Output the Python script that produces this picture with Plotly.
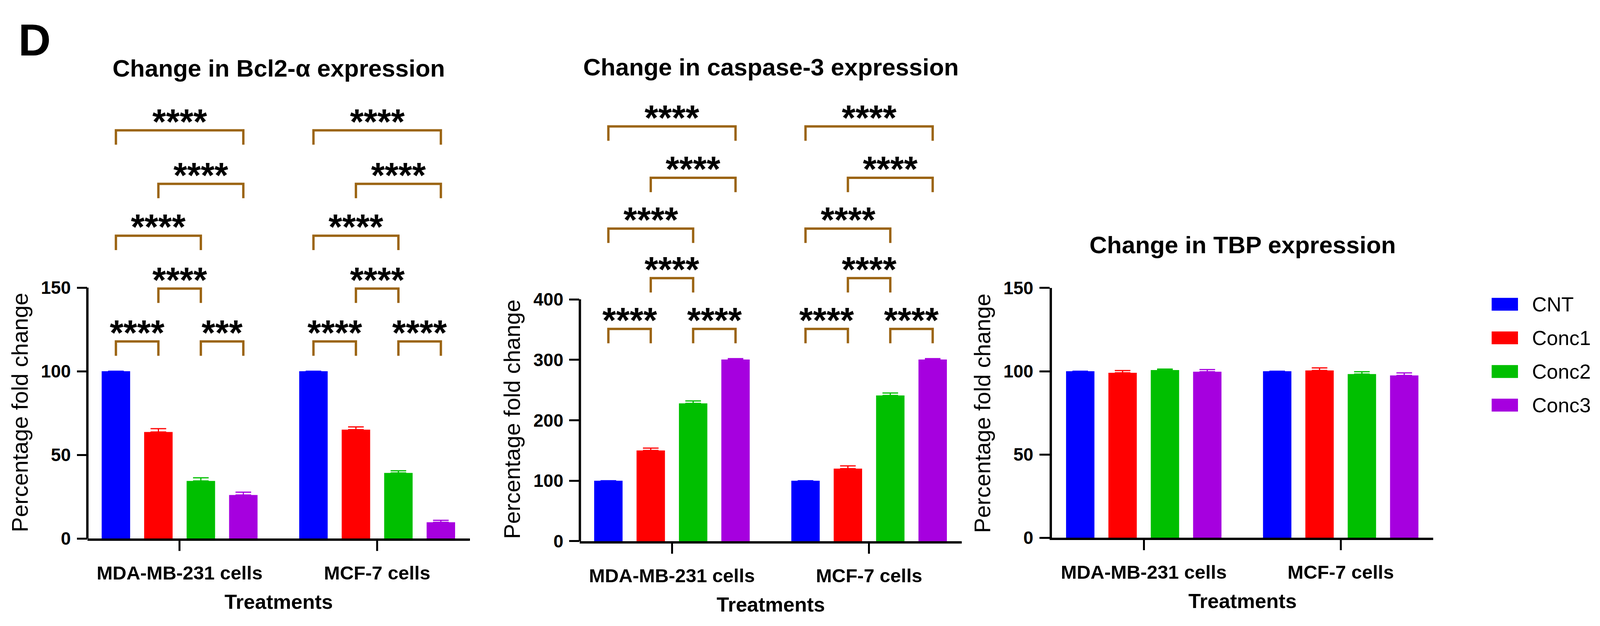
import plotly.graph_objects as go

# ---------------- data ----------------
groups = ["MDA-MB-231 cells", "MCF-7 cells"]
series = ["CNT", "Conc1", "Conc2", "Conc3"]
colors = ["#0000FF", "#FF0000", "#00BF00", "#A600DF"]

# values per series: [MDA-MB-231, MCF-7]
bcl2_values = [[100, 100], [63.7, 65.1], [34.4, 39.2], [26.0, 9.7]]
bcl2_err = [[0, 0], [2.0, 1.6], [1.9, 1.3], [1.7, 1.2]]

casp_values = [[100, 100], [150, 120], [228, 241], [300.5, 300.5]]
casp_err = [[0, 0], [4.0, 4.5], [4.0, 4.0], [1.5, 1.5]]

tbp_values = [[100, 100], [99.1, 100.5], [100.7, 98.3], [99.7, 97.5]]
tbp_err = [[0, 0], [1.3, 1.5], [0.6, 1.4], [1.3, 1.5]]

titles = ["Change in Bcl2-\u03b1 expression", "Change in caspase-3 expression", "Change in TBP expression"]
y_title = "Percentage fold change"
x_title = "Treatments"
panel_letter = "D"

# significance brackets: pairs of bar indices within a group
bracket_pairs = [(0, 1), (2, 3), (1, 2), (0, 2), (1, 3), (0, 3)]
bcl2_bracket_y = [117.8, 117.8, 149.4, 181, 212, 244]
bcl2_labels = [["****", "***", "****", "****", "****", "****"],
               ["****", "****", "****", "****", "****", "****"]]
casp_bracket_y = [351, 351, 435, 517, 601, 686]
casp_labels = [["****"] * 6, ["****"] * 6]

y_ticks = [[0, 50, 100, 150], [0, 100, 200, 300, 400], [0, 50, 100, 150]]

# ---------------- layout constants ----------------
# positions below are measured in reference pixels (4194 x 1602); the visible
# page is about 4096 px wide, so horizontal positions are scaled by SX.
REF_W = 4194
VIEW_W = 4096
SX = VIEW_W / REF_W
MARGIN = 8                       # default body margin of the html page
W, H = 4070, 1576
FONT = "Liberation Sans"
BRACKET_COLOR = "#9B6412"
BARGAP = 0.14
BARGROUPGAP = 0.33
XRANGE = [-0.467, 1.47]

panels = [
    dict(x0=229, x1=1232, zero=1398, ppu=4.427, ymax=265, top=150,
         vals=bcl2_values, errs=bcl2_err, br_y=bcl2_bracket_y, br_lab=bcl2_labels,
         title_y=153, ytitle_x=51, ytitle_y=1064),
    dict(x0=1520, x1=2521, zero=1405, ppu=1.6000, ymax=720, top=400,
         vals=casp_values, errs=casp_err, br_y=casp_bracket_y, br_lab=casp_labels,
         title_y=150, ytitle_x=1342, ytitle_y=1082),
    dict(x0=2757, x1=3757, zero=1396, ppu=4.407, ymax=150, top=150,
         vals=tbp_values, errs=tbp_err, br_y=None, br_lab=None,
         title_y=621, ytitle_x=2574, ytitle_y=1066),
]


def fx(px):
    return (px * SX - MARGIN) / W


def fy(py):
    return 1 - (py - MARGIN) / H


fig = go.Figure()
shapes = []
annotations = []
layout = {}

pitch = (1 - BARGAP) / len(series)

for p, pn in enumerate(panels):
    sfx = "" if p == 0 else str(p + 1)
    xa, ya = "x" + sfx, "y" + sfx
    for k, s in enumerate(series):
        fig.add_trace(go.Bar(
            x=groups, y=pn["vals"][k], name=s, marker_color=colors[k],
            marker_line_width=0, showlegend=False,
            error_y=dict(type="data", array=pn["errs"][k], arrayminus=[0, 0],
                         symmetric=False, color=colors[k], thickness=3, width=20),
            xaxis=xa, yaxis=ya))
    top_px = pn["zero"] - pn["ymax"] * pn["ppu"]
    layout["xaxis" + sfx] = dict(
        domain=[fx(pn["x0"]), fx(pn["x1"])], range=XRANGE, anchor=ya,
        showline=True, linewidth=6, linecolor="black", mirror=False,
        ticks="outside", ticklen=26, tickwidth=5, tickcolor="black",
        ticklabelstandoff=14,
        tickfont=dict(family=FONT, size=49, color="black", weight="bold"),
        title=dict(text=x_title, standoff=32,
                   font=dict(family=FONT, size=52, color="black", weight="bold")),
        showgrid=False, zeroline=False, fixedrange=True)
    layout["yaxis" + sfx] = dict(
        domain=[fy(pn["zero"]), fy(top_px)], range=[0, pn["ymax"]], anchor=xa,
        showline=(p == 2), linewidth=6, linecolor="black",
        ticks="outside", ticklen=26, tickwidth=5, tickcolor="black",
        ticklabelstandoff=6,
        tickvals=y_ticks[p], ticktext=[str(v) for v in y_ticks[p]],
        tickfont=dict(family=FONT, size=46, color="black", weight="bold"),
        showgrid=False, zeroline=False, fixedrange=True)
    if p != 2:
        # y-axis line only up to the top tick
        shapes.append(dict(type="line", xref=xa + " domain", yref=ya,
                           x0=0, x1=0, y0=0, y1=pn["top"],
                           line=dict(color="black", width=6)))
    # panel title
    annotations.append(dict(text=titles[p], xref="paper", yref="paper",
                            x=fx((pn["x0"] + pn["x1"]) / 2), y=fy(pn["title_y"]),
                            xanchor="center", yanchor="middle", showarrow=False,
                            font=dict(family=FONT, size=62, color="black", weight="bold")))
    # y title
    annotations.append(dict(text=y_title, xref="paper", yref="paper",
                            x=fx(pn["ytitle_x"]), y=fy(pn["ytitle_y"]), textangle=-90,
                            xanchor="center", yanchor="middle", showarrow=False,
                            font=dict(family=FONT, size=58, color="black")))
    # brackets
    if pn["br_y"] is not None:
        leg = 38 / pn["ppu"]
        for g in range(len(groups)):
            for b, (i, j) in enumerate(bracket_pairs):
                xi = g + (i - 1.5) * pitch
                xj = g + (j - 1.5) * pitch
                yl = pn["br_y"][b]
                shapes.append(dict(type="path", xref=xa, yref=ya,
                                   path=f"M {xi},{yl - leg} L {xi},{yl} L {xj},{yl} L {xj},{yl - leg}",
                                   line=dict(color=BRACKET_COLOR, width=6)))
                annotations.append(dict(text=pn["br_lab"][g][b], xref=xa, yref=ya,
                                        x=(xi + xj) / 2, y=yl, xanchor="center",
                                        yanchor="bottom", yshift=-30, showarrow=False,
                                        font=dict(family=FONT, size=90, color="black",
                                                  weight="bold")))

# panel letter
annotations.append(dict(text=panel_letter, xref="paper", yref="paper",
                        x=fx(46), y=fy(10), xanchor="left", yanchor="top", showarrow=False,
                        font=dict(family=FONT, size=115, color="black", weight="bold")))

# legend (drawn manually to get large swatches)
leg_x0, leg_x1 = 3910, 3979
leg_y0, leg_dy, leg_h = 778, 89, 34
for k, s in enumerate(series):
    cy = leg_y0 + k * leg_dy
    shapes.append(dict(type="rect", xref="paper", yref="paper",
                       x0=fx(leg_x0), x1=fx(leg_x1), y0=fy(cy - leg_h / 2), y1=fy(cy + leg_h / 2),
                       fillcolor=colors[k], line=dict(width=0)))
    annotations.append(dict(text=s, xref="paper", yref="paper", x=fx(4014), y=fy(cy),
                            xanchor="left", yanchor="middle", showarrow=False,
                            font=dict(family=FONT, size=52, color="black")))

fig.update_layout(
    width=W, height=H, margin=dict(l=0, r=0, t=0, b=0),
    paper_bgcolor="white", plot_bgcolor="white",
    barmode="group", bargap=BARGAP, bargroupgap=BARGROUPGAP,
    showlegend=False, shapes=shapes, annotations=annotations,
    font=dict(family=FONT, color="black"),
    **layout)

fig.write_html("out.html")
